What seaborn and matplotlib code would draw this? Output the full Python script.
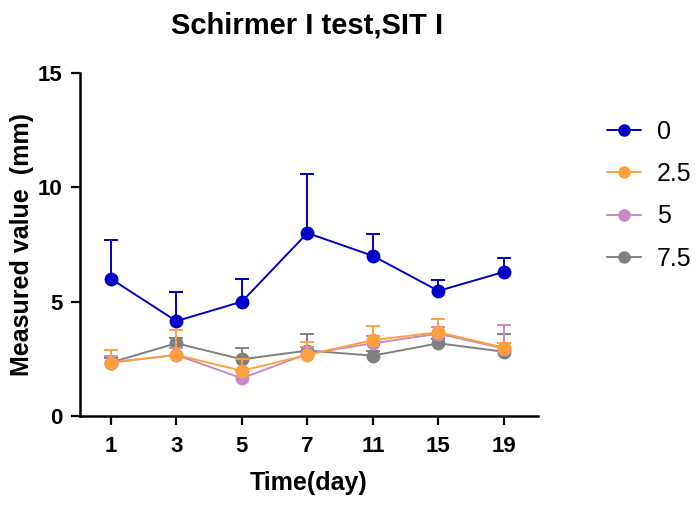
import numpy as np
import pandas as pd
import matplotlib
matplotlib.use("Agg")
import matplotlib.pyplot as plt
from matplotlib.lines import Line2D
import seaborn as sns

days = ["1", "3", "5", "7", "11", "15", "19"]
groups = ["0", "2.5", "5", "7.5"]
mean_0 = [6.0, 4.15, 5.0, 8.0, 7.0, 5.47, 6.3]
err_0 = [1.7, 1.25, 1.0, 2.6, 0.96, 0.48, 0.6]
mean_25 = [2.34, 2.67, 1.98, 2.67, 3.32, 3.66, 2.99]
err_25 = [0.55, 1.1, 0.5, 0.55, 0.6, 0.57, 0.2]
mean_5 = [2.34, 2.67, 1.65, 2.72, 3.18, 3.6, 2.95]
err_5 = [0.3, 0.3, 0.35, 0.3, 0.3, 0.3, 1.05]
mean_75 = [2.34, 3.18, 2.48, 2.86, 2.64, 3.18, 2.81]
err_75 = [0.2, 0.25, 0.48, 0.72, 0.2, 0.2, 0.77]

colors = {"0": "#0000C8", "2.5": "#FFA040", "5": "#C88AC4", "7.5": "#808080"}
zorders = {"0": 6, "2.5": 5, "5": 4, "7.5": 3}
means = {"0": mean_0, "2.5": mean_25, "5": mean_5, "7.5": mean_75}
errs = {"0": err_0, "2.5": err_25, "5": err_5, "7.5": err_75}

sns.set_style("ticks")
plt.rcParams["font.family"] = ["Liberation Sans", "DejaVu Sans"]
plt.rcParams["text.color"] = "black"
plt.rcParams["axes.labelcolor"] = "black"
plt.rcParams["xtick.color"] = "black"
plt.rcParams["ytick.color"] = "black"

fig = plt.figure(figsize=(6.96, 5.13), dpi=100)
ax = fig.add_axes([0.115, 0.189, 0.658, 0.669])

pos = np.arange(len(days))
for g in ["7.5", "5", "2.5", "0"]:
    df = pd.DataFrame({"pos": pos, "val": means[g]})
    _, caps, _ = ax.errorbar(pos, means[g], yerr=[np.zeros(len(pos)), errs[g]], fmt="none",
                             ecolor=colors[g], elinewidth=1.4, capsize=5, capthick=1.4,
                             zorder=zorders[g] - 0.5)
    if len(caps) == 2:
        caps[0].set_visible(False)
    sns.lineplot(data=df, x="pos", y="val", ax=ax, color=colors[g], marker="o",
                 markersize=10, markeredgewidth=0, linewidth=1.4,
                 zorder=zorders[g], legend=False)

ax.set_xlim(-0.47, 6.52)
ax.set_ylim(0, 15)
ax.set_xticks(pos)
ax.set_xticklabels(days)
ax.set_yticks([0, 5, 10, 15])
for lbl in ax.get_xticklabels() + ax.get_yticklabels():
    lbl.set_fontweight("bold")
    lbl.set_fontsize(16)
    lbl.set_color("black")
ax.tick_params(width=1.6, length=6.5, color="black")
ax.tick_params(axis="x", pad=8)
ax.tick_params(axis="y", pad=6)
for s in ["left", "bottom"]:
    ax.spines[s].set_linewidth(1.8)
    ax.spines[s].set_color("black")
sns.despine(ax=ax)

ax.set_xlabel("Time(day)", fontsize=18, fontweight="bold", labelpad=10, color="black")
ax.set_ylabel("Measured value  (mm)", fontsize=18, fontweight="bold", labelpad=3, color="black")
fig.suptitle("Schirmer I test,SIT I", fontsize=21, fontweight="bold", x=0.441, y=0.977,
             color="black")

handles = [Line2D([0], [0], color=colors[g], marker="o", markersize=9,
                  markeredgewidth=0, linewidth=1.4) for g in groups]
leg = ax.legend(handles, groups, loc="upper left", bbox_to_anchor=(1.151, 0.863),
                frameon=False, fontsize=18, handlelength=1.35, labelspacing=0.73,
                handletextpad=0.65, borderpad=0, borderaxespad=0)
for t in leg.get_texts():
    t.set_color("black")

fig.savefig("out.png", dpi=100)
